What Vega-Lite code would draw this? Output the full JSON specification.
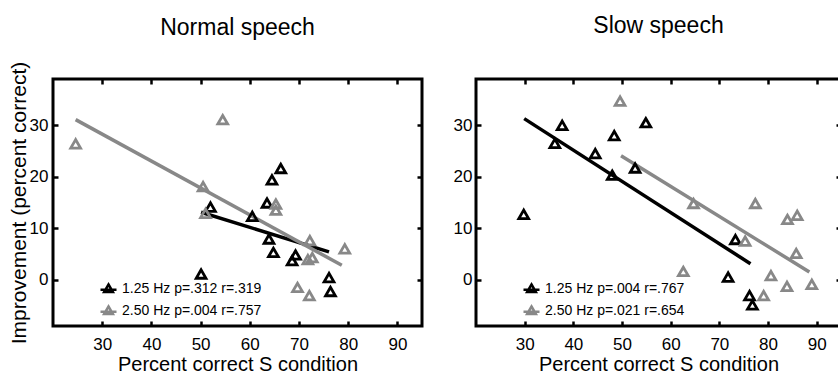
{
  "$schema": "https://vega.github.io/schema/vega-lite/v6.json",
  "padding": {"left": 6, "top": 13, "right": 0, "bottom": 0},
  "background": "white",
  "config": {
    "font": "Liberation Sans",
    "view": {"stroke": "black", "strokeWidth": 3},
    "axis": {"domain": false, "grid": false, "tickColor": "black", "tickWidth": 2.5, "tickSize": -5, "labelColor": "black", "labelFontSize": 17, "labelFont": "Liberation Sans", "titleFont": "Liberation Sans", "titleFontSize": 21, "titleFontWeight": "normal", "titleColor": "black"},
    "title": {"font": "Liberation Sans", "fontSize": 23, "fontWeight": "normal", "color": "black", "baseline": "alphabetic", "frame": "group"},
    "legend": {"labelFont": "Liberation Sans", "labelFontSize": 14, "labelColor": "black"}
  },
  "datasets": {
    "normalPts": [
      {"x": 52.0, "y": 14.1, "series": "1.25 Hz p=.312 r=.319"},
      {"x": 60.5, "y": 12.3, "series": "1.25 Hz p=.312 r=.319"},
      {"x": 63.5, "y": 14.9, "series": "1.25 Hz p=.312 r=.319"},
      {"x": 64.5, "y": 19.4, "series": "1.25 Hz p=.312 r=.319"},
      {"x": 66.3, "y": 21.6, "series": "1.25 Hz p=.312 r=.319"},
      {"x": 63.9, "y": 7.9, "series": "1.25 Hz p=.312 r=.319"},
      {"x": 64.8, "y": 5.3, "series": "1.25 Hz p=.312 r=.319"},
      {"x": 69.3, "y": 4.8, "series": "1.25 Hz p=.312 r=.319"},
      {"x": 68.6, "y": 3.7, "series": "1.25 Hz p=.312 r=.319"},
      {"x": 50.1, "y": 1.1, "series": "1.25 Hz p=.312 r=.319"},
      {"x": 76.1, "y": 0.4, "series": "1.25 Hz p=.312 r=.319"},
      {"x": 76.4, "y": -2.3, "series": "1.25 Hz p=.312 r=.319"},
      {"x": 24.6, "y": 26.4, "series": "2.50 Hz p=.004 r=.757"},
      {"x": 54.5, "y": 31.1, "series": "2.50 Hz p=.004 r=.757"},
      {"x": 50.5, "y": 18.1, "series": "2.50 Hz p=.004 r=.757"},
      {"x": 51.0, "y": 12.9, "series": "2.50 Hz p=.004 r=.757"},
      {"x": 65.3, "y": 14.7, "series": "2.50 Hz p=.004 r=.757"},
      {"x": 65.3, "y": 13.5, "series": "2.50 Hz p=.004 r=.757"},
      {"x": 72.2, "y": 7.6, "series": "2.50 Hz p=.004 r=.757"},
      {"x": 71.8, "y": 3.9, "series": "2.50 Hz p=.004 r=.757"},
      {"x": 72.7, "y": 4.3, "series": "2.50 Hz p=.004 r=.757"},
      {"x": 79.3, "y": 6.0, "series": "2.50 Hz p=.004 r=.757"},
      {"x": 69.7, "y": -1.5, "series": "2.50 Hz p=.004 r=.757"},
      {"x": 72.1, "y": -3.1, "series": "2.50 Hz p=.004 r=.757"}
    ],
    "normalLines": [
      {"x": 50.1, "y": 13.1, "series": "1.25 Hz p=.312 r=.319"},
      {"x": 76.1, "y": 5.4, "series": "1.25 Hz p=.312 r=.319"},
      {"x": 24.6, "y": 31.1, "series": "2.50 Hz p=.004 r=.757"},
      {"x": 78.7, "y": 2.8, "series": "2.50 Hz p=.004 r=.757"}
    ],
    "slowPts": [
      {"x": 29.8, "y": 12.7, "series": "1.25 Hz p=.004 r=.767"},
      {"x": 36.2, "y": 26.5, "series": "1.25 Hz p=.004 r=.767"},
      {"x": 37.7, "y": 30.0, "series": "1.25 Hz p=.004 r=.767"},
      {"x": 44.5, "y": 24.5, "series": "1.25 Hz p=.004 r=.767"},
      {"x": 48.4, "y": 28.0, "series": "1.25 Hz p=.004 r=.767"},
      {"x": 48.0, "y": 20.3, "series": "1.25 Hz p=.004 r=.767"},
      {"x": 52.7, "y": 21.7, "series": "1.25 Hz p=.004 r=.767"},
      {"x": 54.9, "y": 30.5, "series": "1.25 Hz p=.004 r=.767"},
      {"x": 73.3, "y": 7.8, "series": "1.25 Hz p=.004 r=.767"},
      {"x": 71.8, "y": 0.5, "series": "1.25 Hz p=.004 r=.767"},
      {"x": 76.2, "y": -3.1, "series": "1.25 Hz p=.004 r=.767"},
      {"x": 76.8, "y": -4.9, "series": "1.25 Hz p=.004 r=.767"},
      {"x": 49.6, "y": 34.7, "series": "2.50 Hz p=.021 r=.654"},
      {"x": 64.7, "y": 14.8, "series": "2.50 Hz p=.021 r=.654"},
      {"x": 77.4, "y": 14.8, "series": "2.50 Hz p=.021 r=.654"},
      {"x": 62.6, "y": 1.6, "series": "2.50 Hz p=.021 r=.654"},
      {"x": 75.3, "y": 7.5, "series": "2.50 Hz p=.021 r=.654"},
      {"x": 84.0, "y": 11.7, "series": "2.50 Hz p=.021 r=.654"},
      {"x": 86.0, "y": 12.5, "series": "2.50 Hz p=.021 r=.654"},
      {"x": 85.8, "y": 5.1, "series": "2.50 Hz p=.021 r=.654"},
      {"x": 80.6, "y": 0.8, "series": "2.50 Hz p=.021 r=.654"},
      {"x": 79.1, "y": -3.1, "series": "2.50 Hz p=.021 r=.654"},
      {"x": 83.9, "y": -1.3, "series": "2.50 Hz p=.021 r=.654"},
      {"x": 89.0, "y": -0.9, "series": "2.50 Hz p=.021 r=.654"}
    ],
    "slowLines": [
      {"x": 29.9, "y": 31.3, "series": "1.25 Hz p=.004 r=.767"},
      {"x": 76.4, "y": 3.1, "series": "1.25 Hz p=.004 r=.767"},
      {"x": 49.8, "y": 24.1, "series": "2.50 Hz p=.021 r=.654"},
      {"x": 88.5, "y": 1.5, "series": "2.50 Hz p=.021 r=.654"}
    ]
  },
  "hconcat": [
    {
      "title": {"text": "Normal speech", "offset": 21},
      "width": 369,
      "height": 247,
      "resolve": {"axis": {"x": "independent", "y": "independent"}},
      "layer": [
        {
          "data": {"name": "normalLines"},
          "mark": {"type": "line", "strokeWidth": 3.5},
          "encoding": {
            "x": {"field": "x", "type": "quantitative", "scale": {"domain": [20, 95], "nice": false, "zero": false}, "axis": {"orient": "top", "values": [30, 40, 50, 60, 70, 80, 90], "labels": false, "title": null}},
            "y": {"field": "y", "type": "quantitative", "scale": {"domain": [-9, 39], "nice": false, "zero": false}, "axis": {"orient": "right", "values": [0, 10, 20, 30], "labels": false, "title": null}},
            "color": {"field": "series", "type": "nominal", "scale": {"range": ["#000000", "#888888"]}, "legend": {"title": null, "orient": "none", "legendX": 46, "legendY": 200, "symbolType": "M-1,0.15H1M0,-0.5L0.55,0.45H-0.55Z", "symbolSize": 256, "symbolStrokeWidth": 2.5, "symbolFillColor": "transparent", "rowPadding": 3, "labelOffset": 4}},
            "detail": {"field": "series"}
          }
        },
        {
          "data": {"name": "normalPts"},
          "mark": {"type": "point", "shape": "triangle-up", "filled": false, "size": 95, "strokeWidth": 2.8, "opacity": 1},
          "encoding": {
            "x": {"field": "x", "type": "quantitative", "axis": {"orient": "bottom", "values": [30, 40, 50, 60, 70, 80, 90], "title": "Percent correct S condition", "labelPadding": 15, "titlePadding": 2, "titleFontSize": 20}},
            "y": {"field": "y", "type": "quantitative", "axis": {"orient": "left", "values": [0, 10, 20, 30], "title": "Improvement (percent correct)", "labelPadding": 10, "titlePadding": 0}},
            "color": {"field": "series", "type": "nominal", "legend": {"title": null, "orient": "none", "legendX": 46, "legendY": 200, "symbolType": "M-1,0.15H1M0,-0.5L0.55,0.45H-0.55Z", "symbolSize": 256, "symbolStrokeWidth": 2.5, "symbolFillColor": "transparent", "rowPadding": 3, "labelOffset": 4}}
          }
        }
      ]
    },
    {
      "title": {"text": "Slow speech", "offset": 40},
      "width": 365,
      "height": 247,
      "resolve": {"axis": {"x": "independent", "y": "independent"}},
      "layer": [
        {
          "data": {"name": "slowLines"},
          "mark": {"type": "line", "strokeWidth": 3.5},
          "encoding": {
            "x": {"field": "x", "type": "quantitative", "scale": {"domain": [20, 95], "nice": false, "zero": false}, "axis": {"orient": "top", "values": [30, 40, 50, 60, 70, 80, 90], "labels": false, "title": null}},
            "y": {"field": "y", "type": "quantitative", "scale": {"domain": [-9, 39], "nice": false, "zero": false}, "axis": {"orient": "right", "values": [0, 10, 20, 30], "labels": false, "title": null}},
            "color": {"field": "series", "type": "nominal", "scale": {"range": ["#000000", "#888888"]}, "legend": {"title": null, "orient": "none", "legendX": 46, "legendY": 200, "symbolType": "M-1,0.15H1M0,-0.5L0.55,0.45H-0.55Z", "symbolSize": 256, "symbolStrokeWidth": 2.5, "symbolFillColor": "transparent", "rowPadding": 3, "labelOffset": 4}},
            "detail": {"field": "series"}
          }
        },
        {
          "data": {"name": "slowPts"},
          "mark": {"type": "point", "shape": "triangle-up", "filled": false, "size": 95, "strokeWidth": 2.8, "opacity": 1},
          "encoding": {
            "x": {"field": "x", "type": "quantitative", "axis": {"orient": "bottom", "values": [30, 40, 50, 60, 70, 80, 90], "title": "Percent correct S condition", "labelPadding": 15, "titlePadding": 2, "titleFontSize": 20}},
            "y": {"field": "y", "type": "quantitative", "axis": {"orient": "left", "values": [0, 10, 20, 30], "title": null, "labelPadding": 9}},
            "color": {"field": "series", "type": "nominal", "legend": {"title": null, "orient": "none", "legendX": 46, "legendY": 200, "symbolType": "M-1,0.15H1M0,-0.5L0.55,0.45H-0.55Z", "symbolSize": 256, "symbolStrokeWidth": 2.5, "symbolFillColor": "transparent", "rowPadding": 3, "labelOffset": 4}}
          }
        }
      ]
    }
  ],
  "resolve": {"scale": {"color": "independent"}, "legend": {"color": "independent"}},
  "bounds": "flush",
  "spacing": 54
}
